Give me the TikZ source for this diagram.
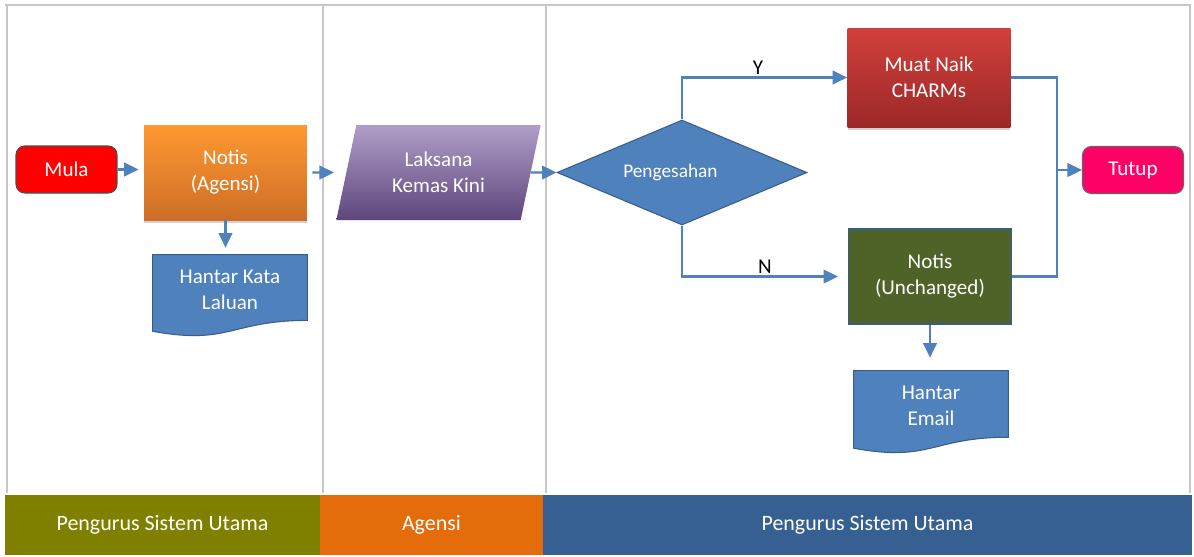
\documentclass[tikz,border=0pt]{standalone}
\usepackage{fontspec}
\setmainfont{Carlito}
\usepackage{tikz}
\usetikzlibrary{arrows.meta, calc, positioning, shapes.geometric,
                shadows, backgrounds}
\definecolor{flowblue}{RGB}{79,129,189}
\definecolor{flowedge}{RGB}{56,93,138}
\definecolor{olivebar}{RGB}{128,128,0}
\definecolor{orangebar}{RGB}{228,108,10}
\definecolor{bluebar}{RGB}{54,96,146}
\definecolor{mulared}{RGB}{255,0,0}
\definecolor{tutuppink}{RGB}{255,0,102}
\definecolor{notisgreen}{RGB}{79,98,40}
\tikzset{
    line/.style = {draw=flowblue, line width=1.4pt},
    flow/.style = {line, -{Triangle[length=0.29cm, width=0.27cm]}},
    lane/.style = {draw=black!22, line width=1.6pt},
    txt/.style = {font=\fontsize{12}{14.8}\selectfont, text=white, align=center},
    yn/.style = {above, inner sep=1pt, text=black, font=\fontsize{12}{14}\selectfont},
    terminal/.style = {txt, rectangle, rounded corners=5pt, draw=black!70, line width=0.6pt,
                       minimum width=2.02cm, minimum height=0.94cm},
    process/.style = {txt, rectangle, minimum width=3.26cm, minimum height=1.9cm},
    doc/.style = {txt, rectangle, minimum width=3.08cm, minimum height=1.4cm},
    decision/.style = {txt, diamond, aspect=2.38, inner sep=0pt, fill=flowblue,
                       draw=flowedge, line width=0.6pt, minimum width=5cm, minimum height=2.1cm,
                       font=\fontsize{11}{13}\selectfont},
    io/.style = {txt, trapezium, trapezium left angle=76.4, trapezium right angle=103.6,
                 trapezium stretches=true, minimum width=4.1cm, minimum height=1.9cm},
    bar/.style = {rectangle, text=white, minimum height=1.2cm, inner sep=0pt,
                  font=\fontsize{12.5}{15}\selectfont},
    shade/.style = {drop shadow={shadow xshift=0pt, shadow yshift=-1.6pt, opacity=0.35}}
    }
% document shape behind a doc node: node, width, height (px)
\newcommand{\docfill}[3]{%
  \filldraw[fill=flowblue, draw=flowedge, line width=0.6pt]
    (#1.north west) -- (#1.north east) -- ++(0,0.802*#3)
    .. controls +(-0.5*#2,0) and +(0.5*#2,0.173*#3) ..
    ($(#1.north west)+(0,0.934*#3)$) -- cycle;}

\begin{document}
\begin{tikzpicture}[
      x = 0.02cm, % one pixel
      y = -0.02cm, % pixels counted downwards
      auto
    ]
    \useasboundingbox (0,0) rectangle (1194,556);

    % swim lanes
    \draw[lane] (5,5) -- (1191,5);
    \draw[lane] (7,5) -- (7,493);
    \draw[lane, line width=1pt] (1190,5) -- (1190,493);
    \draw[lane] (323,5) -- (323,493);
    \draw[lane] (546,5) -- (546,493);

    \node[terminal, fill=mulared] (1) at (66.5,169.5) {Mula};
    \node[process, shade, top color={rgb,255:red,255;green,152;blue,50},
          bottom color={rgb,255:red,205;green,110;blue,38}] (2) at (225.5,172.5) {Notis\\(Agensi)};
    \node[doc] (3) at (230,290) {Hantar Kata\\Laluan};

    \node[io, top color={rgb,255:red,176;green,158;blue,200},
          bottom color={rgb,255:red,94;green,70;blue,124}] (4) at (438.5,172.5) {Laksana\\Kemas Kini};

    \node[decision] (5) at (682,172.5) {Pengesahan\hspace*{1.2em}};
    \node[process, shade, minimum height=1.98cm, top color={rgb,255:red,210;green,64;blue,60},
          bottom color={rgb,255:red,155;green,40;blue,40}] (6) at (929,77.5) {Muat Naik\\CHARMs};
    \node[process, fill=notisgreen, draw=flowedge, line width=0.6pt] (7) at (930,276.5) {Notis\\(Unchanged)};
    \node[doc] (8) at (931,406) {Hantar\\Email};
    \node[terminal, fill=tutuppink, draw=black!60] (9) at (1133,170) {Tutup};

    \node[bar, fill=olivebar, minimum width=6.3cm] (10) at (162.5,525) {Pengurus Sistem Utama};
    \node[bar, fill=orangebar, minimum width=4.46cm] (11) at (431.5,525) {Agensi};
    \node[bar, fill=bluebar, minimum width=12.98cm] (12) at (867.5,525) {Pengurus Sistem Utama};

    \begin{scope}[on background layer]
        \fill[white] (0,0) rectangle (1194,556);
        \docfill{3}{154}{82}
        \docfill{8}{154}{83}
    \end{scope}

    \coordinate (j) at (1057,170);

    \draw[flow, shorten >=0.1cm] (1.east) -- (1.east -| 2.west);
    \draw[flow, shorten >=0.14cm] (2.south) -- (2.south |- 3.north);
    \draw[flow, shorten <=0.1cm, shorten >=0.24cm] (2.east) -- (4.west);
    \draw[flow] (4.east) -- (5.west);
    \draw[flow] (5.north) |- node[pos=0.73, yn] {Y} (6.west);
    \draw[flow, shorten >=0.2cm] (5.south) |- node[pos=0.75, yn] {N} (7.west);
    \draw[line] (6.east) -| (j);
    \draw[line] (7.east) -| (j);
    \draw[flow] (j) -- (9.west);
    \draw[flow, shorten >=0.26cm] (7.south) -- (7.south |- 8.north);
\end{tikzpicture}
\end{document}
